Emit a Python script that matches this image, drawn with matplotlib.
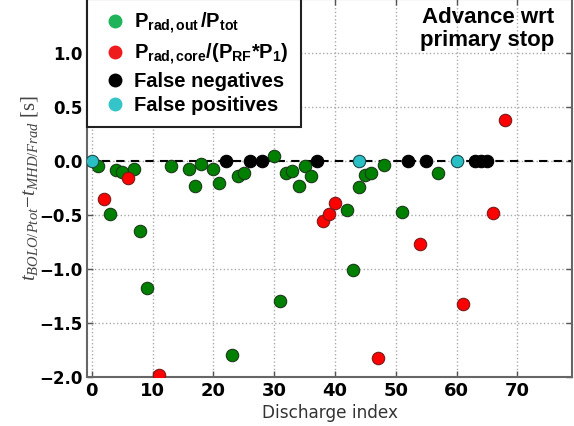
import matplotlib
matplotlib.use('Agg')
import matplotlib.pyplot as plt
from matplotlib.lines import Line2D

# discharge index / time difference [s]
green_x = [1, 3, 4, 5, 7, 8, 9, 13, 16, 17, 18, 20, 21, 23, 24, 25, 30, 31, 32, 33,
           34, 35, 36, 42, 43, 44, 45, 46, 48, 51, 57]
green_y = [-0.05, -0.49, -0.08, -0.10, -0.07, -0.65, -1.18, -0.05, -0.07, -0.23, -0.03,
           -0.07, -0.20, -1.80, -0.14, -0.11, 0.05, -1.30, -0.11, -0.09, -0.23, -0.05,
           -0.14, -0.45, -1.01, -0.24, -0.13, -0.11, -0.04, -0.47, -0.11]
red_x = [2, 6, 11, 38, 39, 40, 47, 54, 61, 66, 68]
red_y = [-0.35, -0.16, -1.98, -0.56, -0.49, -0.39, -1.82, -0.77, -1.32, -0.48, 0.38]
black_x = [22, 26, 28, 37, 52, 55, 63, 64, 65]
black_y = [0, 0, 0, 0, 0, 0, 0, 0, 0]
cyan_x = [0, 44, 60]
cyan_y = [0, 0, 0]

labels = [r'$\mathbf{P_{rad,out}\,/P_{tot}}$',
          r'$\mathbf{P_{rad,core}/(P_{RF}{*}P_1)}$',
          'False negatives',
          'False positives']

plt.rcParams['mathtext.fontset'] = 'custom'
plt.rcParams['mathtext.rm'] = 'Liberation Serif'
plt.rcParams['mathtext.it'] = 'Liberation Serif:italic'
plt.rcParams['mathtext.bf'] = 'Liberation Sans:bold'

fig = plt.figure(figsize=(5.74, 4.26), dpi=100)
ax = fig.add_axes([87/574., 49/426., 485/574., 378/426.])

ax.axhline(0, color='k', ls='--', lw=1.5, dashes=(4, 3), zorder=2)
ax.scatter(green_x, green_y, s=80, c='#008000', edgecolors='#1a3a1a', linewidths=0.8, zorder=3)
ax.scatter(red_x, red_y, s=80, c='#ff0000', edgecolors='#7a1a1a', linewidths=0.8, zorder=3)
ax.scatter(black_x, black_y, s=80, c='k', edgecolors='k', linewidths=0.8, zorder=4)
ax.scatter(cyan_x, cyan_y, s=80, c='#2abfc4', edgecolors='#1a4a4a', linewidths=0.8, zorder=5)

ax.set_xlim(-0.8, 79)
ax.set_ylim(-2.0, 1.5)
ax.set_xticks(range(0, 80, 10))
ax.set_yticks([-2.0, -1.5, -1.0, -0.5, 0.0, 0.5, 1.0])
ax.set_yticklabels(['\u22122.0', '\u22121.5', '\u22121.0', '\u22120.5', '0.0', '0.5', '1.0'])
ax.grid(True, ls=':', color='#aaaaaa', lw=1)
ax.tick_params(direction='in', top=True, right=True, length=4, width=1, colors='#555555',
               labelcolor='k')
for lab in ax.get_xticklabels():
    lab.set_fontweight('bold')
    lab.set_fontsize(13)
for lab in ax.get_yticklabels():
    lab.set_fontweight('bold')
    lab.set_fontsize(12)
for sp in ax.spines.values():
    sp.set_color('#666666')
    sp.set_linewidth(1.5)

ax.set_xlabel('Discharge index', fontsize=12.2, color='#333333', labelpad=3)
ax.set_ylabel(r'$t_{BOLO/Ptot}\!-\!t_{MHD/Frad}$ [s]', fontsize=15, color='#444444',
              family='Liberation Serif')
ax.yaxis.set_label_coords(-0.097, 0.5)

ax.text(0.826, 0.978, 'Advance wrt\nprimary stop', transform=ax.transAxes, ha='center',
        va='top', fontsize=16, fontweight='bold', family='Liberation Sans', linespacing=1.1)

handles = [Line2D([], [], ls='', marker='o', ms=9, color='#1fb35a'),
           Line2D([], [], ls='', marker='o', ms=9, color='#ee1c1c'),
           Line2D([], [], ls='', marker='o', ms=9, color='k'),
           Line2D([], [], ls='', marker='o', ms=9, color='#35c4c8')]
leg = ax.legend(handles, labels, loc='upper left', bbox_to_anchor=(0, 1.0), borderaxespad=0,
                fancybox=False, framealpha=1, edgecolor='#222222', handlelength=1.6,
                handletextpad=0.15, borderpad=0.6, labelspacing=0.25,
                prop={'family': 'Liberation Sans', 'weight': 'bold', 'size': 14.5})
leg.get_frame().set_linewidth(1.5)
leg.set_zorder(10)

fig.savefig('out.png', dpi=100)
